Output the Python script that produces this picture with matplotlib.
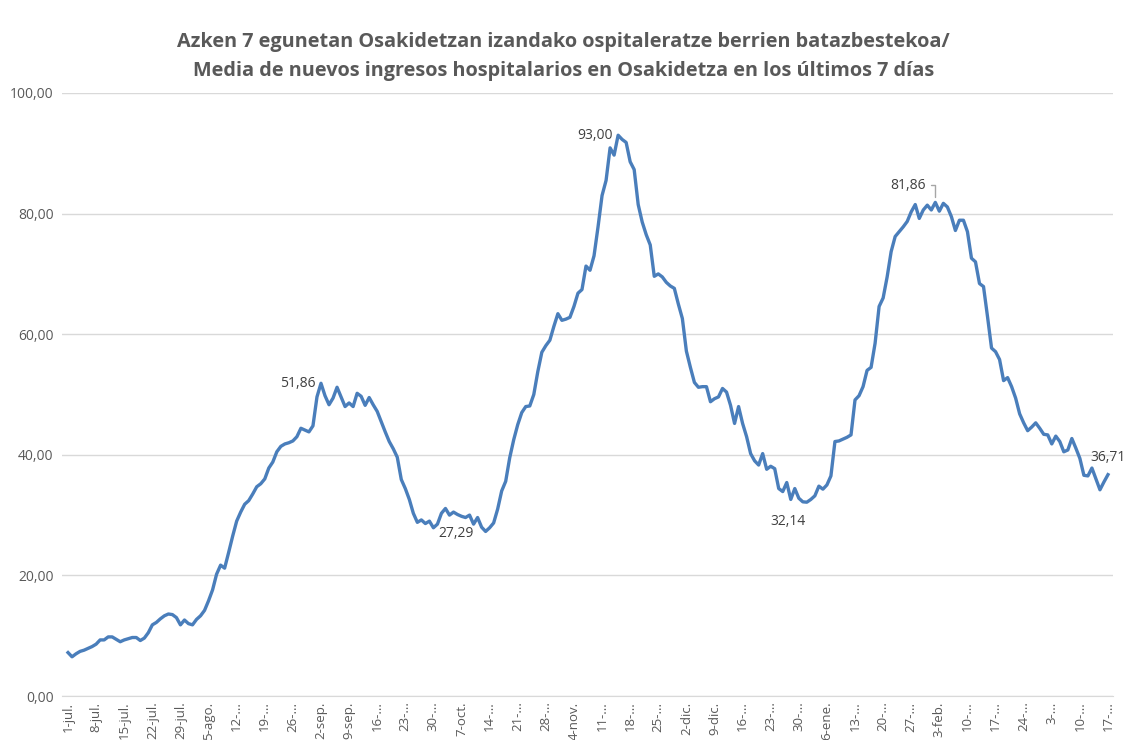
import matplotlib
matplotlib.use("Agg")
import matplotlib.pyplot as plt
import numpy as np

# -------- data --------
# 7-day mean of new hospital admissions, daily from 1-jul-2020 to 17-mar-2021
values = [
    7.2, 6.5, 7.0, 7.4, 7.6, 7.9, 8.2, 8.6, 9.3, 9.3,
    9.8, 9.8, 9.4, 9.0, 9.3, 9.5, 9.7, 9.7, 9.2, 9.6,
    10.5, 11.8, 12.2, 12.8, 13.3, 13.6, 13.5, 13.0, 11.8, 12.6,
    12.0, 11.8, 12.7, 13.3, 14.2, 15.8, 17.6, 20.2, 21.7, 21.2,
    23.8, 26.5, 29.0, 30.5, 31.8, 32.4, 33.5, 34.7, 35.2, 36.0,
    37.8, 38.8, 40.5, 41.4, 41.8, 42.0, 42.3, 43.0, 44.4, 44.1,
    43.8, 44.8, 49.6, 51.86, 49.8, 48.3, 49.4, 51.2, 49.6, 48.0,
    48.6, 48.0, 50.2, 49.7, 48.2, 49.5, 48.3, 47.2, 45.5, 43.8,
    42.2, 41.0, 39.6, 35.9, 34.4, 32.6, 30.3, 28.8, 29.2, 28.6,
    29.0, 27.9, 28.5, 30.3, 31.1, 30.0, 30.5, 30.1, 29.8, 29.6,
    30.0, 28.5, 29.6, 28.0, 27.29, 27.9, 28.7, 31.0, 34.0, 35.6,
    39.5, 42.5, 45.0, 47.0, 48.0, 48.1, 50.0, 53.8, 57.0, 58.1,
    59.0, 61.3, 63.4, 62.3, 62.5, 62.8, 64.6, 66.8, 67.4, 71.3,
    70.6, 73.0, 77.8, 83.0, 85.5, 90.9, 89.7, 93.0, 92.3, 91.8,
    88.6, 87.3, 81.5, 78.6, 76.5, 74.8, 69.6, 70.0, 69.5, 68.6,
    68.0, 67.6, 65.0, 62.6, 57.2, 54.5, 52.0, 51.2, 51.3, 51.3,
    48.8, 49.3, 49.6, 51.0, 50.4, 48.2, 45.2, 48.0, 45.2, 43.0,
    40.2, 39.0, 38.3, 40.2, 37.6, 38.1, 37.7, 34.4, 33.9, 35.4,
    32.6, 34.4, 32.8, 32.2, 32.14, 32.6, 33.2, 34.8, 34.3, 35.0,
    36.5, 42.2, 42.3, 42.6, 42.9, 43.3, 49.1, 49.8, 51.3, 54.0,
    54.5, 58.5, 64.6, 66.0, 69.5, 73.7, 76.2, 77.0, 77.8, 78.7,
    80.3, 81.5, 79.2, 80.6, 81.4, 80.6, 81.86, 80.4, 81.7, 81.1,
    79.5, 77.2, 78.9, 78.9, 77.0, 72.6, 72.0, 68.4, 67.9, 62.9,
    57.7, 57.1, 55.8, 52.3, 52.8, 51.3, 49.4, 46.8, 45.3, 44.0,
    44.6, 45.3, 44.4, 43.4, 43.3, 41.8, 43.1, 42.2, 40.5, 40.8,
    42.7, 41.1, 39.4, 36.6, 36.5, 37.8, 36.0, 34.2, 35.5, 36.71,
]

tick_labels = [
    "1-jul.", "8-jul.", "15-jul.", "22-jul.", "29-jul.", "5-ago.", "12-...",
    "19-...", "26-...", "2-sep.", "9-sep.", "16-...", "23-...", "30-...",
    "7-oct.", "14-...", "21-...", "28-...", "4-nov.", "11-...", "18-...",
    "25-...", "2-dic.", "9-dic.", "16-...", "23-...", "30-...", "6-ene.",
    "13-...", "20-...", "27-...", "3-feb.", "10-...", "17-...", "24-...",
    "3-...", "10-...", "17-...",
]

y_ticks = [0, 20, 40, 60, 80, 100]

# index of labelled points and their text offsets (pixels)
labelled = {63: (-5, 0, "right"), 137: (-5, 0, "right"), 104: (-30, -2, "center"),
            184: (-19, -19, "center"), 259: (0, 17, "center")}
leader_idx = 216

# -------- plot --------
plt.rcParams["font.family"] = ["Open Sans", "DejaVu Sans"]
grey = "#595959"
line_col = "#4a7ebb"

fig = plt.figure(figsize=(11.27, 7.4), dpi=100)
ax = fig.add_axes([62 / 1127, 44 / 740, 1051 / 1127, 603 / 740])

days = np.arange(len(values))
ax.plot(days, values, color=line_col, lw=2.4, solid_joinstyle="round", zorder=3)

ax.set_xlim(-1.5, 260.25)
ax.set_ylim(0, 100)
ax.set_yticks(y_ticks)
ax.set_yticklabels([f"{v:.2f}".replace(".", ",") for v in y_ticks], color=grey, fontsize=10)
ax.yaxis.grid(True, color="#d9d9d9", lw=1)
ax.set_axisbelow(True)
ax.tick_params(axis="y", length=0, pad=6)

ax.set_xticks(days[::7])
ax.set_xticklabels(tick_labels, rotation=90, fontsize=9.5, color=grey)
ax.tick_params(axis="x", length=0, pad=4)

for s in ["top", "right", "left"]:
    ax.spines[s].set_visible(False)
ax.spines["bottom"].set_color("#d9d9d9")

for i, (dx, dy, ha) in labelled.items():
    ax.annotate(f"{values[i]:.2f}".replace(".", ","), xy=(days[i], values[i]),
                xytext=(dx, dy), textcoords="offset pixels", ha=ha, va="center",
                fontsize=10, color="#404040")

ax.annotate(f"{values[leader_idx]:.2f}".replace(".", ","),
            xy=(days[leader_idx], values[leader_idx]), xytext=(-10, 17),
            textcoords="offset pixels", ha="right", va="center", fontsize=10,
            color="#404040",
            arrowprops=dict(arrowstyle="-", color="#a6a6a6", lw=1,
                            connectionstyle="angle,angleA=0,angleB=90,rad=0",
                            shrinkA=2, shrinkB=4))

fig.text(0.5, 1 - 42 / 740, "Azken 7 egunetan Osakidetzan izandako ospitaleratze berrien batazbestekoa/",
         ha="center", va="center", fontsize=14.3, fontweight="bold", color=grey)
fig.text(0.5, 1 - 71 / 740, "Media de nuevos ingresos hospitalarios en Osakidetza en los últimos 7 días",
         ha="center", va="center", fontsize=14.3, fontweight="bold", color=grey)

fig.savefig("out.png", dpi=100)
